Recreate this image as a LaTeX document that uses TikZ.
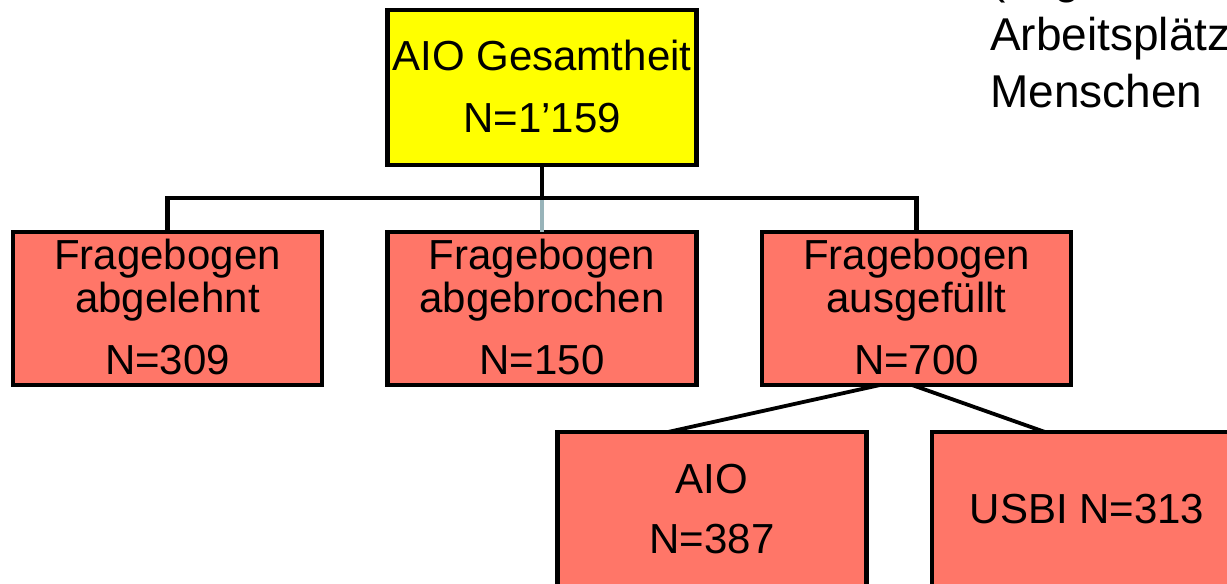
\documentclass[tikz,border=0pt]{standalone}
\usepackage{fontspec}
\setmainfont{Liberation Sans}
\definecolor{salmon}{RGB}{255,118,104}
\definecolor{topyellow}{RGB}{255,255,0}
\definecolor{linkgray}{RGB}{152,180,186}
\begin{document}
\begin{tikzpicture}[x=1pt,y=-1pt,
  box/.style={draw=black,line width=4.8pt,rectangle,inner sep=0pt,outer sep=0pt,
    minimum width=309pt,minimum height=153pt,fill=salmon},
  txt/.style={inner sep=0pt,anchor=base,font=\fontsize{42}{50}\selectfont},
  note/.style={inner sep=0pt,anchor=base west,font=\fontsize{46}{57}\selectfont},
  conn/.style={draw=black,line width=4.8pt},
  thinconn/.style={draw=black,line width=3.8pt}
]
\useasboundingbox (0,0) rectangle (1227,584);
\clip (0,0) rectangle (1227,584);
\fill[white] (0,0) rectangle (1227,584);

% boxes
\node[box,fill=topyellow,minimum height=155pt] (top) at (542,87.5) {};
\node[box] (b1) at (167.5,308.5) {};
\node[box] (b2) at (542,308.5) {};
\node[box] (b3) at (916.5,308.5) {};
\node[box,minimum height=158pt] (aio) at (712,511) {};
\node[box,minimum width=310pt,minimum height=158pt] (usbi) at (1087,511) {};

% texts
\node[txt] (t0a) at (542,70) {AIO Gesamtheit};
\node[txt] (t0b) at (542,132) {N=1’159};
\node[txt] (t1a) at (167.5,269) {Fragebogen};
\node[txt] (t1b) at (167.5,312) {abgelehnt};
\node[txt] (t1c) at (167.5,374) {N=309};
\node[txt] (t2a) at (542,269) {Fragebogen};
\node[txt] (t2b) at (542,312) {abgebrochen};
\node[txt] (t2c) at (542,374) {N=150};
\node[txt] (t3a) at (916.5,269) {Fragebogen};
\node[txt] (t3b) at (916.5,312) {ausgefüllt};
\node[txt] (t3c) at (916.5,374) {N=700};
\node[txt] (t4a) at (712,493) {AIO};
\node[txt] (t4b) at (712,553) {N=387};
\node[txt] (t5a) at (1087,523) {USBI N=313};

% connectors
\coordinate (bar) at (542,198);
\draw[conn,draw=linkgray] (bar) -- (b2.north);
\draw[conn] (top.south) -- (bar);
\draw[conn] (b1.north) |- (bar) -| (b3.north);
\draw[thinconn] ([xshift=-36.5pt]b3.south) -- ([xshift=-44pt]aio.north);
\draw[thinconn] ([xshift=-4.5pt]b3.south) -- ([xshift=-42pt]usbi.north);

% note at top right (partly outside the picture)
\node[note] (n1) at (990,-7) {(in geschützten};
\node[note] (n2) at (990,50) {Arbeitsplätze};
\node[note] (n3) at (990,107) {Menschen\hspace{12pt} mit};
\end{tikzpicture}
\end{document}
